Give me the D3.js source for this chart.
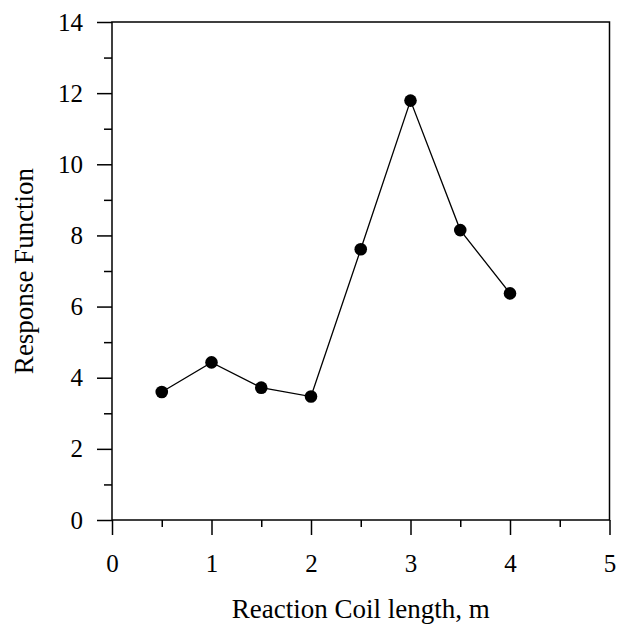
<!DOCTYPE html>
<html>
<head>
<meta charset="utf-8">
<script src="https://cdn.jsdelivr.net/npm/d3@7"></script>
<style>
  body { margin: 0; background: #fff; }
  svg text { font-family: "Liberation Serif", "Times New Roman", serif; fill: #000; }
</style>
</head>
<body>
<div id="chart"></div>
<script>
// data
const coilLength = [0.5, 1, 1.5, 2, 2.5, 3, 3.5, 4];
const response = [3.6, 4.43, 3.72, 3.47, 7.61, 11.79, 8.15, 6.37];
const xTicks = [0, 1, 2, 3, 4, 5];
const xMinorTicks = [0.5, 1.5, 2.5, 3.5, 4.5];
const yTicks = [0, 2, 4, 6, 8, 10, 12, 14];
const yMinorTicks = [1, 3, 5, 7, 9, 11, 13];

var width = 617, height = 625;
// plot box (note: "top" is reserved on window, so use plotTop)
var plotLeft = 112, plotRight = 609.5, plotTop = 22, plotBottom = 520;

var svg = d3.select("#chart").append("svg")
  .attr("width", width)
  .attr("height", height);

var x = d3.scaleLinear().domain([0, 5]).range([plotLeft, plotRight]);
var y = d3.scaleLinear().domain([0, 14]).range([plotBottom, plotTop]);

// frame
svg.append("rect")
  .attr("x", plotLeft).attr("y", plotTop)
  .attr("width", plotRight - plotLeft).attr("height", plotBottom - plotTop)
  .attr("fill", "none").attr("stroke", "#000").attr("stroke-width", 1.5);

// x axis
svg.append("g")
  .attr("transform", `translate(0, ${plotBottom})`)
  .call(d3.axisBottom(x).tickValues(xTicks).tickSize(15).tickPadding(19).tickFormat(d3.format("d")));
svg.append("g")
  .attr("transform", `translate(0, ${plotBottom})`)
  .call(d3.axisBottom(x).tickValues(xMinorTicks).tickSize(7).tickFormat(""));

// y axis
svg.append("g")
  .attr("transform", `translate(${plotLeft}, 0)`)
  .call(d3.axisLeft(y).tickValues(yTicks).tickSize(15).tickPadding(14).tickFormat(d3.format("d")));
svg.append("g")
  .attr("transform", `translate(${plotLeft}, 0)`)
  .call(d3.axisLeft(y).tickValues(yMinorTicks).tickSize(8).tickFormat(""));

svg.selectAll(".domain").remove();
svg.selectAll(".tick line").attr("stroke", "#000").attr("stroke-width", 1.5);
svg.selectAll(".tick text")
  .style("font-family", "'Liberation Serif', serif")
  .style("font-size", "25px")
  .attr("fill", "#000");

// line + markers
var line = d3.line()
  .x((d, i) => x(coilLength[i]))
  .y(d => y(d));

svg.append("path")
  .attr("d", line(response))
  .attr("fill", "none")
  .attr("stroke", "#000")
  .attr("stroke-width", 1.3);

svg.append("g")
  .selectAll("circle")
  .data(response).enter()
  .append("circle")
  .attr("cx", (d, i) => x(coilLength[i]))
  .attr("cy", d => y(d))
  .attr("r", 6.3)
  .attr("fill", "#000");

// axis titles
svg.append("text")
  .attr("x", (plotLeft + plotRight) / 2)
  .attr("y", 618)
  .attr("text-anchor", "middle")
  .style("font-size", "27px")
  .text("Reaction Coil length, m");

svg.append("text")
  .attr("transform", `translate(33, ${(plotTop + plotBottom) / 2}) rotate(-90)`)
  .attr("text-anchor", "middle")
  .style("font-size", "27px")
  .text("Response Function");
</script>
</body>
</html>
